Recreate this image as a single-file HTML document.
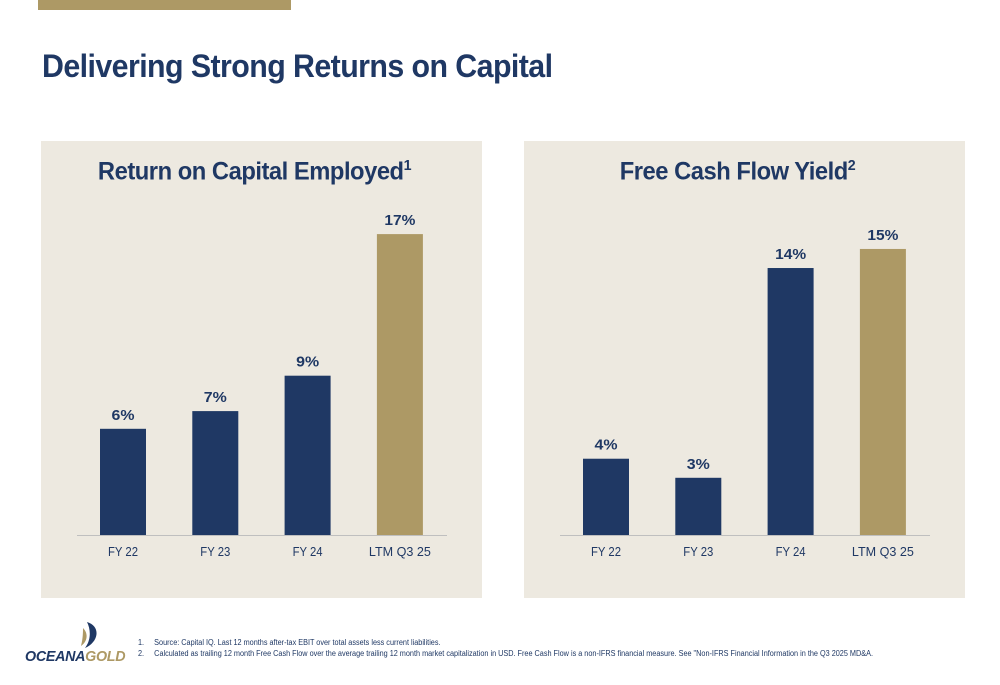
<!DOCTYPE html>
<html><head><meta charset="utf-8"><style>
body{margin:0;width:1000px;height:685px;background:#fff;font-family:"Liberation Sans",sans-serif;position:relative;overflow:hidden}
.abs{position:absolute}
.panel{position:absolute;top:141px;width:441px;height:457px;background:#EDE9E0}
.ct{position:absolute;width:100%;text-align:center;top:16px;left:-7px;font-weight:bold;font-size:25px;color:#1F3864;letter-spacing:-0.5px;transform:scaleX(0.95)}
.fn{font-size:8px;color:#1F3864;transform:scaleX(0.91);transform-origin:0 0;white-space:nowrap}
</style></head><body>
<div class="abs" style="left:38px;top:0;width:253px;height:10px;background:#AD9965"></div>
<div class="abs" style="left:42px;top:48px;font-size:32px;font-weight:bold;color:#1F3864;letter-spacing:-0.6px;transform:scaleX(0.948);transform-origin:0 0;white-space:nowrap">Delivering Strong Returns on Capital</div>
<div class="panel" style="left:41px"><div class="ct">Return on Capital Employed<sup style="font-size:15px">1</sup></div></div>
<div class="panel" style="left:524px"><div class="ct">Free Cash Flow Yield<sup style="font-size:15px">2</sup></div></div>
<svg class="abs" style="left:0;top:0" width="1000" height="685" id="svg"></svg>
<div class="abs" style="left:25px;top:620px;width:100px;height:44px">
<svg width="100" height="30" style="position:absolute;left:0;top:0"><path d="M62 2 C76 6 74 22 60 28 C66 20 66 10 62 2Z" fill="#1F3864"/><path d="M58 8 C64 14 62 22 56 26 C58 18 58 12 58 8Z" fill="#AD9965"/></svg>
<div style="position:absolute;top:29px;left:0;font-size:14.3px;font-weight:bold;font-style:italic;letter-spacing:-0.3px;white-space:nowrap"><span style="color:#1F3864">OCEANA</span><span style="color:#AD9965">GOLD</span></div></div>
<div class="abs fn" style="left:138px;top:638px">1.&nbsp;&nbsp;&nbsp;&nbsp;&nbsp;Source: Capital IQ. Last 12 months after-tax EBIT over total assets less current liabilities.</div>
<div class="abs fn" style="left:138px;top:649px">2.&nbsp;&nbsp;&nbsp;&nbsp;&nbsp;Calculated as trailing 12 month Free Cash Flow over the average trailing 12 month market capitalization in USD. Free Cash Flow is a non-IFRS financial measure. See "Non-IFRS Financial Information in the Q3 2025 MD&amp;A.</div>
<script>
const categories=["FY 22","FY 23","FY 24","LTM Q3 25"];
const roceValues=[6,7,9,17];
const fcfValues=[4,3,14,15];
const NS="http://www.w3.org/2000/svg",svg=document.getElementById('svg');
function mk(t,a){const e=document.createElementNS(NS,t);for(const k in a)e.setAttribute(k,a[k]);svg.appendChild(e);return e;}
function chart(vals,x0,pxPer,nm){
  const base=535;
  const y=v=>base-v*pxPer;
  const bx=i=>x0+i*92.3;
  const ax=mk('line',{x1:x0-23,x2:x0+347,y1:base+0.5,y2:base+0.5,stroke:'#BFBFBF','stroke-width':1});
  
  
  vals.forEach((v,i)=>{
    const r=mk('rect',{x:bx(i),y:y(v),width:46,height:base-y(v),fill:i==3?'#AD9965':'#1F3864'});
    
    
    const t=mk('text',{x:bx(i)+23,y:y(v)-9,'text-anchor':'middle','font-size':15,'font-weight':'bold',fill:'#1F3864','font-family':'Liberation Sans','textLength':v>9?31:23,'lengthAdjust':'spacingAndGlyphs'});
    t.textContent=v+'%';
    
    
    const c=mk('text',{x:bx(i)+23,y:556,'text-anchor':'middle','font-size':13,fill:'#1F3864','font-family':'Liberation Sans','textLength':i==3?62:30,'lengthAdjust':'spacingAndGlyphs'});
    c.textContent=categories[i];
    
    
  });
}
chart(roceValues,100,17.7,'roce');
chart(fcfValues,583,19.07,'fcf');
</script>
</body></html>
